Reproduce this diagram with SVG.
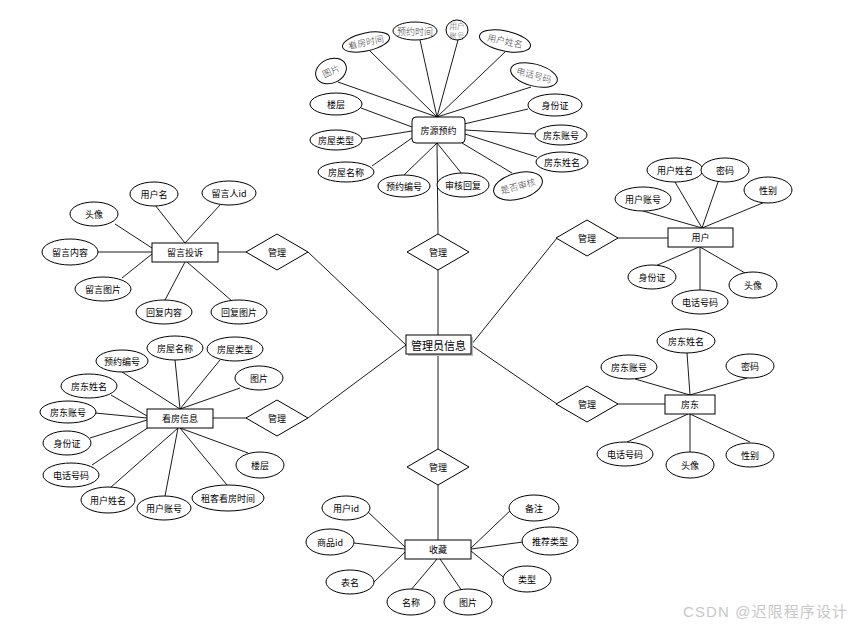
<svg xmlns="http://www.w3.org/2000/svg" width="852" height="632" viewBox="0 0 852 632">
<style>
.e{fill:#fff;stroke:#000;stroke-width:1}
.r{fill:#fff;stroke:#000;stroke-width:1}
.d{fill:#fff;stroke:#000;stroke-width:1}
.t{font-family:"Noto Sans CJK SC","Liberation Sans",sans-serif;font-size:9px;text-anchor:middle;dominant-baseline:central;fill:#000}
.g{font-family:"Noto Sans CJK SC","Liberation Serif",serif;font-size:9px;text-anchor:middle;dominant-baseline:central;fill:#444;font-weight:300}
.s{font-size:7.5px}
.b{font-size:11px}
#connectors line{stroke:#000;stroke-width:0.9}
</style>
<rect width="852" height="632" fill="#fff"/>
<g id="connectors">
<line x1="370" y1="51" x2="437" y2="117"/>
<line x1="420" y1="40" x2="437" y2="117"/>
<line x1="458" y1="40" x2="437" y2="117"/>
<line x1="505" y1="52" x2="437" y2="117"/>
<line x1="531" y1="87" x2="437" y2="117"/>
<line x1="338" y1="82" x2="437" y2="117"/>
<line x1="361" y1="108" x2="412" y2="127"/>
<line x1="362" y1="139" x2="412" y2="131"/>
<line x1="372" y1="166" x2="412" y2="138"/>
<line x1="528" y1="109" x2="464" y2="124"/>
<line x1="535" y1="134" x2="465" y2="130"/>
<line x1="537" y1="157" x2="465" y2="134"/>
<line x1="512" y1="173" x2="462" y2="143"/>
<line x1="404" y1="175" x2="437" y2="143"/>
<line x1="462" y1="174" x2="437" y2="143"/>
<line x1="437" y1="143" x2="438" y2="234"/>
<line x1="438" y1="270" x2="438" y2="335"/>
<line x1="438" y1="354" x2="438" y2="449"/>
<line x1="438" y1="485" x2="438" y2="540"/>
<line x1="218" y1="252" x2="246" y2="252"/>
<line x1="308" y1="252" x2="406" y2="345"/>
<line x1="155" y1="205" x2="185" y2="243"/>
<line x1="220" y1="205" x2="185" y2="243"/>
<line x1="115" y1="224" x2="152" y2="248"/>
<line x1="98" y1="252" x2="152" y2="252"/>
<line x1="122" y1="278" x2="152" y2="254"/>
<line x1="165" y1="300" x2="185" y2="262"/>
<line x1="232" y1="301" x2="187" y2="262"/>
<line x1="212" y1="418" x2="246" y2="418"/>
<line x1="308" y1="418" x2="406" y2="345"/>
<line x1="175" y1="360" x2="180" y2="409"/>
<line x1="220" y1="360" x2="180" y2="409"/>
<line x1="122" y1="372" x2="180" y2="409"/>
<line x1="240" y1="388" x2="180" y2="409"/>
<line x1="111" y1="395" x2="147" y2="416"/>
<line x1="95" y1="413" x2="147" y2="418"/>
<line x1="90" y1="438" x2="147" y2="420"/>
<line x1="92" y1="465" x2="149" y2="427"/>
<line x1="110" y1="488" x2="178" y2="428"/>
<line x1="165" y1="496" x2="178" y2="428"/>
<line x1="227" y1="485" x2="180" y2="428"/>
<line x1="248" y1="453" x2="180" y2="428"/>
<line x1="618" y1="238" x2="668" y2="238"/>
<line x1="557" y1="238" x2="471" y2="345"/>
<line x1="675" y1="182" x2="702" y2="228"/>
<line x1="718" y1="182" x2="702" y2="228"/>
<line x1="643" y1="211" x2="702" y2="228"/>
<line x1="765" y1="202" x2="702" y2="228"/>
<line x1="653" y1="267" x2="699" y2="247"/>
<line x1="700" y1="290" x2="700" y2="247"/>
<line x1="745" y1="273" x2="700" y2="247"/>
<line x1="618" y1="404" x2="665" y2="404"/>
<line x1="557" y1="404" x2="471" y2="345"/>
<line x1="687" y1="353" x2="690" y2="395"/>
<line x1="635" y1="379" x2="690" y2="395"/>
<line x1="747" y1="378" x2="690" y2="395"/>
<line x1="627" y1="442" x2="688" y2="414"/>
<line x1="690" y1="452" x2="690" y2="414"/>
<line x1="750" y1="442" x2="690" y2="414"/>
<line x1="368" y1="512" x2="405" y2="547"/>
<line x1="354" y1="543" x2="405" y2="549"/>
<line x1="374" y1="582" x2="405" y2="552"/>
<line x1="410" y1="591" x2="437" y2="559"/>
<line x1="462" y1="591" x2="440" y2="559"/>
<line x1="513" y1="508" x2="471" y2="548"/>
<line x1="523" y1="542" x2="471" y2="549"/>
<line x1="507" y1="580" x2="471" y2="551"/>
</g>

<g id="admin">
<rect x="408" y="337" width="65" height="19" fill="#bbb"/>
<rect class="r" x="406" y="335" width="65" height="19"/>
<text class="t b" x="438.5" y="345">管理员信息</text>
</g>

<g id="rel-top"><polygon class="d" points="438,234 469,252 438,270 407,252"/><text class="t" x="438" y="252">管理</text></g>
<g id="rel-bottom"><polygon class="d" points="438,449 469,467 438,485 407,467"/><text class="t" x="438" y="467">管理</text></g>
<g id="rel-lefttop"><polygon class="d" points="277,234 308,252 277,270 246,252"/><text class="t" x="277" y="252">管理</text></g>
<g id="rel-leftbottom"><polygon class="d" points="277,400 308,418 277,436 246,418"/><text class="t" x="277" y="418">管理</text></g>
<g id="rel-righttop"><polygon class="d" points="587,220 618,238 587,256 556,238"/><text class="t" x="587" y="238">管理</text></g>
<g id="rel-rightbottom"><polygon class="d" points="587,386 618,404 587,422 556,404"/><text class="t" x="587" y="404">管理</text></g>

<g id="booking">
<rect class="r" x="412" y="117" width="53" height="26" rx="4"/>
<text class="t" x="438.5" y="130">房源预约</text>
</g>
<g id="b-kfsj" transform="translate(366,42) rotate(-12)"><ellipse class="e" rx="24" ry="9"/><text class="g" y="0">看房时间</text></g>
<g id="b-yysj"><ellipse class="e" cx="415" cy="31" rx="22" ry="9"/><text class="g" x="415" y="31">预约时间</text></g>
<g id="b-yhzh"><ellipse class="e" cx="457" cy="30" rx="11" ry="10"/><text class="g s" x="457" y="25"><tspan x="457" y="25">用户</tspan><tspan x="457" y="35">账号</tspan></text></g>
<g id="b-yhxm" transform="translate(505,41) rotate(12)"><ellipse class="e" rx="26" ry="10"/><text class="g" y="0">用户姓名</text></g>
<g id="b-dhhm" transform="translate(534,75) rotate(15)"><ellipse class="e" rx="24" ry="11"/><text class="g" y="0">电话号码</text></g>
<g id="b-tp" transform="translate(331,71) rotate(-25)"><ellipse class="e" rx="16" ry="12"/><text class="g" y="0">图片</text></g>
<g id="b-lc"><ellipse class="e" cx="336" cy="104" rx="26" ry="11"/><text class="t" x="336" y="104">楼层</text></g>
<g id="b-sfz"><ellipse class="e" cx="555" cy="105" rx="27" ry="11"/><text class="t" x="555" y="105">身份证</text></g>
<g id="b-fwlx"><ellipse class="e" cx="336" cy="140" rx="26" ry="10"/><text class="t" x="336" y="140">房屋类型</text></g>
<g id="b-fdzh"><ellipse class="e" cx="561" cy="135" rx="26" ry="10"/><text class="t" x="561" y="135">房东账号</text></g>
<g id="b-fwmc"><ellipse class="e" cx="346" cy="172" rx="28" ry="10"/><text class="t" x="346" y="172">房屋名称</text></g>
<g id="b-fdxm"><ellipse class="e" cx="562" cy="162" rx="26" ry="10"/><text class="t" x="562" y="162">房东姓名</text></g>
<g id="b-yybh"><ellipse class="e" cx="404" cy="186" rx="26" ry="11"/><text class="t" x="404" y="186">预约编号</text></g>
<g id="b-shhf"><ellipse class="e" cx="463" cy="185" rx="26" ry="12"/><text class="t" x="463" y="185">审核回复</text></g>
<g id="b-sfsh" transform="translate(518,186) rotate(-15)"><ellipse class="e" rx="25" ry="13"/><text class="g" y="0">是否审核</text></g>

<g id="complaint"><rect class="r" x="152" y="243" width="66" height="19"/><text class="t" x="185" y="252.5">留言投诉</text></g>
<g id="c-yhm"><ellipse class="e" cx="154" cy="194" rx="24" ry="12"/><text class="t" x="154" y="194">用户名</text></g>
<g id="c-lyrid"><ellipse class="e" cx="229" cy="193" rx="27" ry="12"/><text class="t" x="229" y="193">留言人id</text></g>
<g id="c-tx"><ellipse class="e" cx="94" cy="214" rx="24" ry="12"/><text class="t" x="94" y="214">头像</text></g>
<g id="c-lynr"><ellipse class="e" cx="70" cy="252" rx="28" ry="13"/><text class="t" x="70" y="252">留言内容</text></g>
<g id="c-lytp"><ellipse class="e" cx="103" cy="289" rx="28" ry="12"/><text class="t" x="103" y="289">留言图片</text></g>
<g id="c-hfnr"><ellipse class="e" cx="164" cy="312" rx="28" ry="12"/><text class="t" x="164" y="312">回复内容</text></g>
<g id="c-hftp"><ellipse class="e" cx="239" cy="312" rx="28" ry="12"/><text class="t" x="239" y="312">回复图片</text></g>

<g id="viewing"><rect class="r" x="147" y="409" width="66" height="19"/><text class="t" x="180" y="418.5">看房信息</text></g>
<g id="v-fwmc"><ellipse class="e" cx="175" cy="348" rx="28" ry="12"/><text class="t" x="175" y="348">房屋名称</text></g>
<g id="v-fwlx"><ellipse class="e" cx="235" cy="349" rx="28" ry="12"/><text class="t" x="235" y="349">房屋类型</text></g>
<g id="v-yybh"><ellipse class="e" cx="122" cy="361" rx="26" ry="11"/><text class="t" x="122" y="361">预约编号</text></g>
<g id="v-tp"><ellipse class="e" cx="259" cy="378" rx="24" ry="12"/><text class="t" x="259" y="378">图片</text></g>
<g id="v-fdxm"><ellipse class="e" cx="89" cy="386" rx="28" ry="12"/><text class="t" x="89" y="386">房东姓名</text></g>
<g id="v-fdzh"><ellipse class="e" cx="68" cy="412" rx="28" ry="11"/><text class="t" x="68" y="412">房东账号</text></g>
<g id="v-sfz"><ellipse class="e" cx="67" cy="443" rx="24" ry="12"/><text class="t" x="67" y="443">身份证</text></g>
<g id="v-dhhm"><ellipse class="e" cx="71" cy="475" rx="28" ry="12"/><text class="t" x="71" y="475">电话号码</text></g>
<g id="v-yhxm"><ellipse class="e" cx="108" cy="500" rx="27" ry="13"/><text class="t" x="108" y="500">用户姓名</text></g>
<g id="v-yhzh"><ellipse class="e" cx="164" cy="508" rx="27" ry="12"/><text class="t" x="164" y="508">用户账号</text></g>
<g id="v-zkkfsj"><ellipse class="e" cx="228" cy="498" rx="36" ry="13"/><text class="t" x="228" y="498">租客看房时间</text></g>
<g id="v-lc"><ellipse class="e" cx="260" cy="465" rx="24" ry="13"/><text class="t" x="260" y="465">楼层</text></g>

<g id="user"><rect class="r" x="668" y="228" width="65" height="19"/><text class="t" x="700.5" y="237.5">用户</text></g>
<g id="u-yhxm"><ellipse class="e" cx="675" cy="170" rx="28" ry="12"/><text class="t" x="675" y="170">用户姓名</text></g>
<g id="u-mm"><ellipse class="e" cx="725" cy="170" rx="24" ry="12"/><text class="t" x="725" y="170">密码</text></g>
<g id="u-yhzh"><ellipse class="e" cx="643" cy="199" rx="28" ry="12"/><text class="t" x="643" y="199">用户账号</text></g>
<g id="u-xb"><ellipse class="e" cx="768" cy="190" rx="24" ry="13"/><text class="t" x="768" y="190">性别</text></g>
<g id="u-sfz"><ellipse class="e" cx="652" cy="277" rx="24" ry="12"/><text class="t" x="652" y="277">身份证</text></g>
<g id="u-dhhm"><ellipse class="e" cx="700" cy="302" rx="28" ry="12"/><text class="t" x="700" y="302">电话号码</text></g>
<g id="u-tx"><ellipse class="e" cx="753" cy="285" rx="24" ry="13"/><text class="t" x="753" y="285">头像</text></g>

<g id="landlord"><rect class="r" x="665" y="395" width="50" height="19"/><text class="t" x="690" y="404.5">房东</text></g>
<g id="l-fdxm"><ellipse class="e" cx="686" cy="341" rx="29" ry="12"/><text class="t" x="686" y="341">房东姓名</text></g>
<g id="l-fdzh"><ellipse class="e" cx="629" cy="367" rx="28" ry="12"/><text class="t" x="629" y="367">房东账号</text></g>
<g id="l-mm"><ellipse class="e" cx="750" cy="366" rx="24" ry="12"/><text class="t" x="750" y="366">密码</text></g>
<g id="l-dhhm"><ellipse class="e" cx="625" cy="454" rx="28" ry="12"/><text class="t" x="625" y="454">电话号码</text></g>
<g id="l-tx"><ellipse class="e" cx="690" cy="465" rx="24" ry="13"/><text class="t" x="690" y="465">头像</text></g>
<g id="l-xb"><ellipse class="e" cx="750" cy="455" rx="24" ry="12"/><text class="t" x="750" y="455">性别</text></g>

<g id="favorite"><rect class="r" x="405" y="540" width="66" height="19"/><text class="t" x="438" y="549.5">收藏</text></g>
<g id="f-yhid"><ellipse class="e" cx="346" cy="508" rx="24" ry="12"/><text class="t" x="346" y="508">用户id</text></g>
<g id="f-spid"><ellipse class="e" cx="330" cy="542" rx="24" ry="13"/><text class="t" x="330" y="542">商品id</text></g>
<g id="f-bm"><ellipse class="e" cx="350" cy="582" rx="24" ry="12"/><text class="t" x="350" y="582">表名</text></g>
<g id="f-mc"><ellipse class="e" cx="411" cy="602" rx="24" ry="13"/><text class="t" x="411" y="602">名称</text></g>
<g id="f-tp"><ellipse class="e" cx="468" cy="602" rx="24" ry="13"/><text class="t" x="468" y="602">图片</text></g>
<g id="f-bz"><ellipse class="e" cx="534" cy="508" rx="25" ry="13"/><text class="t" x="534" y="508">备注</text></g>
<g id="f-tjlx"><ellipse class="e" cx="550" cy="541" rx="28" ry="14"/><text class="t" x="550" y="541">推荐类型</text></g>
<g id="f-lx"><ellipse class="e" cx="527" cy="579" rx="24" ry="13"/><text class="t" x="527" y="579">类型</text></g>

<text x="683" y="617" textLength="164" style="font-family:'Liberation Sans','Noto Sans CJK SC',sans-serif;font-size:15px;fill:#c8c8c8">CSDN @迟限程序设计</text>
</svg>
